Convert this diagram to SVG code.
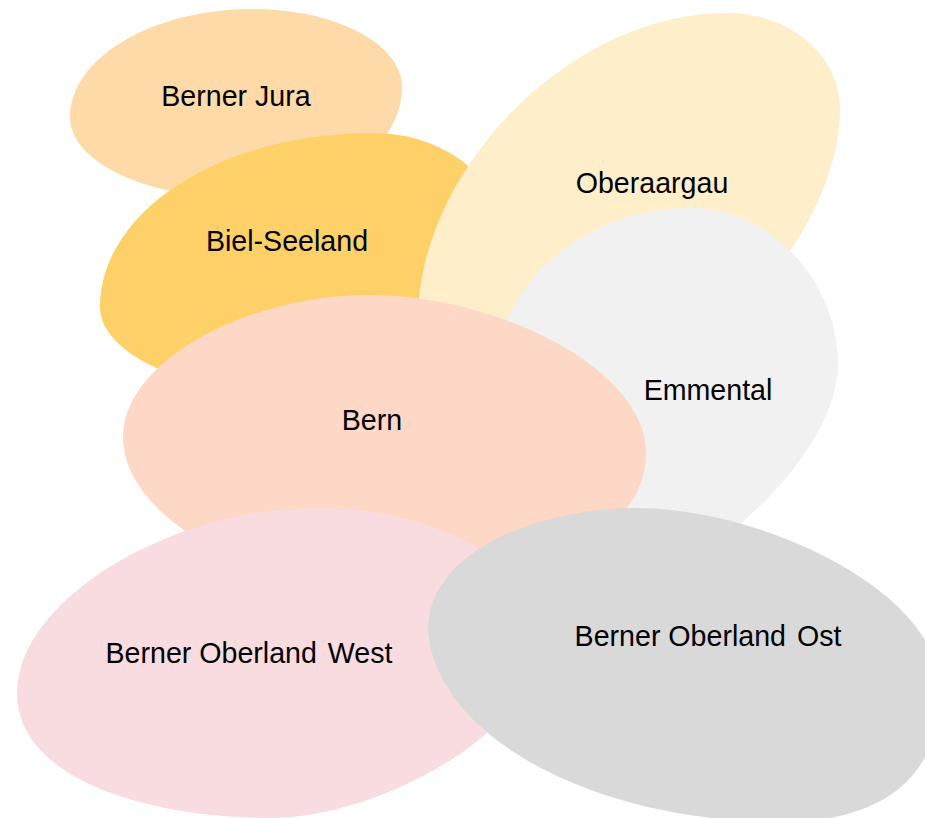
<svg xmlns="http://www.w3.org/2000/svg" width="925" height="818" viewBox="0 0 925 818">
  <style>
    .lbl { font-family: "Liberation Sans", Arial, sans-serif; font-size: 28.6px; fill: #000; text-anchor: middle; }
  </style>
  <rect width="925" height="818" fill="#ffffff"/>
  <g id="connectors"/>
  <g id="berner-jura">
    <path fill="#FEDAA8" d="M70,117 C70,58 152,9 253,9 C335,9 402,44 402,87 C402,148 329,198 240,198 C146,198 70,162 70,117 Z"/>
    <text class="lbl" x="236" y="106">Berner Jura</text>
  </g>
  <g id="biel-seeland">
    <path fill="#FED168" d="M100,307 C100,211 221,133 373,133 C446,133 505,181 505,240 C505,330 400,395 300,395 C190,395 100,355 100,307 Z"/>
    <text class="lbl" x="287" y="251">Biel-Seeland</text>
  </g>
  <g id="oberaargau">
    <path fill="#FEEFCA" d="M418,320 C418,170 570,13 727,13 C790,13 840,55 840,110 C840,230 700,400 550,400 C470,400 418,370 418,320 Z"/>
    <text class="lbl" x="652" y="193">Oberaargau</text>
  </g>
  <g id="emmental">
    <path fill="#F1F1F1" d="M690,208 C770,208 838,280 838,365 C838,445 725,560 650,570 C570,570 495,470 495,390 C490,280 590,208 690,208 Z"/>
    <text class="lbl" x="708" y="400">Emmental</text>
  </g>
  <g id="bern">
    <path fill="#FDD8C6" d="M123,437 C123,360 250,295 368,295 C500,295 646,370 646,453 C646,540 520,592 400,592 C260,592 123,520 123,437 Z"/>
    <text class="lbl" x="372" y="430">Bern</text>
  </g>
  <g id="berner-oberland-west">
    <path fill="#F8DCDF" d="M317,508 C170,508 17,600 17,693 C17,780 150,818 270,818 C380,818 540,730 540,640 C540,560 430,508 317,508 Z"/>
    <text class="lbl" x="249" y="663">Berner Oberland <tspan dx="3">West</tspan></text>
  </g>
  <g id="berner-oberland-ost">
    <path fill="#D9D9D9" d="M637,508 C760,508 940,590 940,690 C940,780 880,822 780,822 C600,822 436,740 428,630 C428,550 540,508 637,508 Z"/>
    <text class="lbl" x="708" y="646">Berner Oberland <tspan dx="3">Ost</tspan></text>
  </g>
</svg>
